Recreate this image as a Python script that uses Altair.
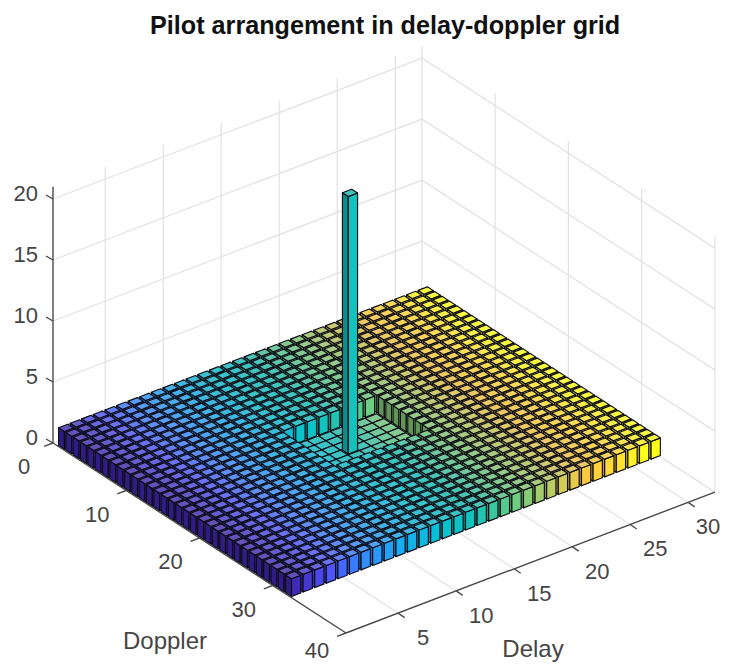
import altair as alt
import pandas as pd

alt.data_transformers.disable_max_rows()

TITLE = "Pilot arrangement in delay-doppler grid"
delay_bins = list(range(1, 33))
doppler_bins = list(range(1, 33))
pilot_cell = (16, 16)
pilot_height = 21.1
base_height = 1.45
guard_delay = (13, 20)
guard_doppler = (13, 19)
bar_width = 0.8

delay_ticks = [5, 10, 15, 20, 25, 30]
doppler_ticks = [0, 10, 20, 30, 40]
z_ticks = [0, 5, 10, 15, 20]
delay_lim = (0.5, 32.3)
doppler_lim = (0, 40)
z_max = 21

parula = ["#3E26A8", "#4751F4", "#2D87F7", "#14A2E0", "#06B4C4", "#12B4AC",
          "#5CBE7C", "#A6BF5C", "#E8BA3E", "#FBD02F", "#F9FB15"]


# Orthographic 3D view of MATLAB's axes box onto the page
def proj(d, k, z=0.0):
    x = 346 + 11.6 * (d - 0.5) + 7.325 * (k - 40)
    y = 633 - 4.43 * (d - 0.5) + 4.75 * (k - 40) - 12.2 * z
    return x, y


def rgb(h):
    return [int(h[i:i + 2], 16) for i in (1, 3, 5)]


def colour(t, gain=1.0, white=0.0):
    t = max(0, min(1, t)) * (len(parula) - 1)
    i = min(int(t), len(parula) - 2)
    a, b = rgb(parula[i]), rgb(parula[i + 1])
    c = [a[j] + (b[j] - a[j]) * (t - i) for j in range(3)]
    c = [min(255, v * gain) * (1 - white) + 255 * white for v in c]
    return "#%02x%02x%02x" % tuple(int(v) for v in c)


def envelope(pid, verts, fill):
    xs = sorted({round(v[0], 3) for v in verts})
    rows = []
    n = len(verts)
    for x in xs:
        ys = []
        for i in range(n):
            (x0, y0), (x1, y1) = verts[i], verts[(i + 1) % n]
            lo, hi = min(x0, x1) - 1e-3, max(x0, x1) + 1e-3
            if lo <= x <= hi:
                if abs(x1 - x0) < 1e-3:
                    ys += [y0, y1]
                else:
                    ys.append(y0 + (y1 - y0) * (x - x0) / (x1 - x0))
        rows.append(dict(p=pid, px=x, py=round(min(ys), 2), py2=round(max(ys), 2), fill=fill))
    return rows


def height(d, k):
    if (d, k) == pilot_cell:
        return pilot_height
    if guard_delay[0] <= d <= guard_delay[1] and guard_doppler[0] <= k <= guard_doppler[1]:
        return 0
    return base_height


rows, pid = [], 0
for d in sorted(delay_bins, reverse=True):
    t = (d - 1) / (len(delay_bins) - 1)
    for k in doppler_bins:
        z = height(d, k)
        faces = []
        # flat guard cells close up so that their floor reads as one dark mesh
        h = bar_width / 2 if z > 0 else 0.5
        if z > 0:
            faces.append(([proj(d - h, k - h, 0), proj(d - h, k + h, 0),
                           proj(d - h, k + h, z), proj(d - h, k - h, z)], colour(t, 0.78)))
            faces.append(([proj(d - h, k + h, 0), proj(d + h, k + h, 0),
                           proj(d + h, k + h, z), proj(d - h, k + h, z)], colour(t, 1.08)))
        faces.append(([proj(d - h, k - h, z), proj(d - h, k + h, z),
                       proj(d + h, k + h, z), proj(d + h, k - h, z)], colour(t, 1.0, 0.2)))
        for verts, fill in faces:
            rows += envelope(pid, verts, fill)
            pid += 1
bars_df = pd.DataFrame(rows)


def seg_rows(segs):
    out = []
    for i, (a, b) in enumerate(segs):
        for q, pt in enumerate((a, b)):
            out.append(dict(s=i, q=q, px=pt[0], py=pt[1]))
    return pd.DataFrame(out)


grid = []
for d in delay_ticks:
    grid.append((proj(d, 0, 0), proj(d, 0, z_max)))
    grid.append((proj(d, 0, 0), proj(d, doppler_lim[1], 0)))
for k in doppler_ticks[1:]:
    grid.append((proj(delay_lim[1], k, 0), proj(delay_lim[1], k, z_max)))
for k in doppler_ticks[1:-1]:
    grid.append((proj(delay_lim[0], k, 0), proj(delay_lim[1], k, 0)))
grid.append((proj(delay_lim[1], 0, 0), proj(delay_lim[1], 0, z_max)))
for z in z_ticks:
    grid.append((proj(delay_lim[0], 0, z), proj(delay_lim[1], 0, z)))
    grid.append((proj(delay_lim[1], 0, z), proj(delay_lim[1], 40, z)))

axes = [
    (proj(delay_lim[0], 0, 0), proj(delay_lim[0], 0, z_max)),
    (proj(delay_lim[0], 0, 0), proj(delay_lim[0], 40, 0)),
    (proj(delay_lim[0], 40, 0), proj(delay_lim[1], 40, 0)),
]
for z in z_ticks:
    a = proj(delay_lim[0], 0, z)
    axes.append((a, (a[0] - 7, a[1] - 4)))
for k in doppler_ticks:
    a = proj(delay_lim[0], k, 0)
    axes.append((a, (a[0] - 9, a[1] + 3.3)))
for d in delay_ticks:
    a = proj(d, 40, 0)
    axes.append((a, (a[0] + 6.5, a[1] + 4.5)))

z_labels = []
for z in z_ticks:
    a = proj(delay_lim[0], 0, z)
    z_labels.append(dict(px=a[0] - 15, py=a[1] - 5, t=str(z)))
labels = []
for k in doppler_ticks:
    a = proj(delay_lim[0], k, 0)
    labels.append(dict(px=a[0] - 29, py=min(a[1] + 24, 651), t=str(k)))
for d in delay_ticks:
    a = proj(d, 40, 0)
    labels.append(dict(px=min(a[0] + 25, 708), py=a[1] + 25, t=str(d)))
axis_titles = [dict(px=165, py=642, t="Doppler"), dict(px=533, py=650, t="Delay")]

X = alt.X("px:Q", axis=None, scale=alt.Scale(domain=[8, 721]))
Y = alt.Y("py:Q", axis=None, stack=None, scale=alt.Scale(domain=[663, 45]))

grid_layer = alt.Chart(seg_rows(grid)).mark_line(color="#e2e2e2", strokeWidth=1.2).encode(
    x=X, y=Y, detail="s:N", order="q:Q")
bars_layer = alt.Chart(bars_df).mark_area(stroke="#0c0c14", strokeWidth=1.15, strokeJoin="round").encode(
    x=X, y=Y, y2="py2:Q", detail="p:N", fill=alt.Fill("fill:N", scale=None))
axes_layer = alt.Chart(seg_rows(axes)).mark_line(color="#4a4a4a", strokeWidth=1.4).encode(
    x=X, y=Y, detail="s:N", order="q:Q")
text_a = alt.Chart(pd.DataFrame(z_labels)).mark_text(
    font="Liberation Sans", fontSize=22, color="#454545", baseline="middle", align="right").encode(
    x=X, y=Y, text="t:N")
text_b = alt.Chart(pd.DataFrame(labels)).mark_text(
    font="Liberation Sans", fontSize=22, color="#454545", baseline="middle", align="center").encode(
    x=X, y=Y, text="t:N")
text_c = alt.Chart(pd.DataFrame(axis_titles)).mark_text(
    font="Liberation Sans", fontSize=24, color="#454545", baseline="middle", align="center").encode(
    x=X, y=Y, text="t:N")

chart = (grid_layer + bars_layer + axes_layer + text_a + text_b + text_c).properties(
    width=713, height=618,
    autosize=alt.AutoSizeParams(type="none"),
    padding={"left": 0, "top": 37, "right": 0, "bottom": 0},
    title=alt.TitleParams(TITLE, font="Liberation Sans", fontSize=25.2, fontWeight="bold",
                          color="#111111", anchor="start", offset=4, dx=142),
).configure_view(stroke=None)

chart.save("out.html", embed_options={"renderer": "svg", "actions": False})
